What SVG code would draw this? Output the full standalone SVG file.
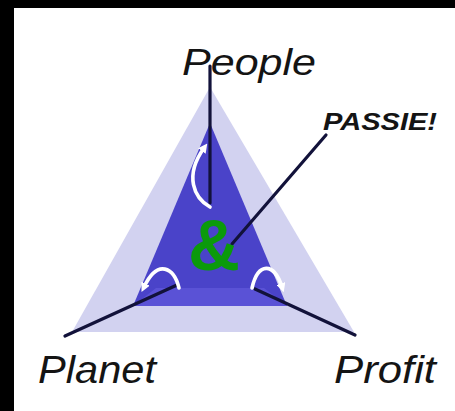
<svg xmlns="http://www.w3.org/2000/svg" width="455" height="411" viewBox="0 0 455 411">
<style>
.lbl{font-family:"Liberation Sans",Arial,sans-serif;font-style:italic;fill:#141414}
.ln{stroke:#12123a;stroke-width:3.2;fill:none;stroke-linecap:round}
.wa{stroke:#ffffff;stroke-width:3.6;fill:none;stroke-linecap:round}
</style>
<defs>
<marker id="ah" viewBox="0 0 10 10" refX="4" refY="5" markerWidth="2.6" markerHeight="2.6" orient="auto" markerUnits="strokeWidth">
<path d="M0,0 L10,5 L0,10 z" fill="#ffffff"/>
</marker>
</defs>
<rect x="0" y="0" width="455" height="411" fill="#000"/>
<rect x="14" y="8" width="441" height="403" fill="#fff"/>
<g id="pyramid">
<polygon points="210,87 72,332 354,332" fill="#d2d2f0"/>
<polygon points="210,123 133,306 287,306" fill="#4a43c9"/>
<polygon points="133,306 287,306 264,288 156,288" fill="#5a52d6"/>
</g>
<g id="connectors">
<line class="ln" x1="210" y1="66" x2="210" y2="203"/>
<line class="ln" x1="65" y1="336" x2="177" y2="285"/>
<line class="ln" x1="355" y1="335" x2="255" y2="289"/>
<line class="ln" x1="326" y1="135" x2="232" y2="244" stroke-width="2.6"/>
<path class="wa" d="M210,207 C194,198 184,176 204,148" marker-end="url(#ah)"/>
<path class="wa" d="M179,288 C174,268 158,258 144,287" marker-end="url(#ah)"/>
<path class="wa" d="M252,288 C258,262 274,262 282,287" marker-end="url(#ah)"/>
</g>
<g id="amp">
<text x="188" y="270" font-family="'Liberation Sans',Arial,sans-serif" font-weight="bold" font-size="72" fill="#0b9a0b">&amp;</text>
</g>
<g id="people"><text class="lbl" x="182" y="75" font-size="36" textLength="134" lengthAdjust="spacingAndGlyphs">People</text></g>
<g id="passie"><text class="lbl" x="323" y="130" font-size="24" font-weight="bold" textLength="114" lengthAdjust="spacingAndGlyphs">PASSIE!</text></g>
<g id="planet"><text class="lbl" x="38" y="383" font-size="38" textLength="118" lengthAdjust="spacingAndGlyphs">Planet</text></g>
<g id="profit"><text class="lbl" x="334" y="383" font-size="38" textLength="102" lengthAdjust="spacingAndGlyphs">Profit</text></g>
</svg>
